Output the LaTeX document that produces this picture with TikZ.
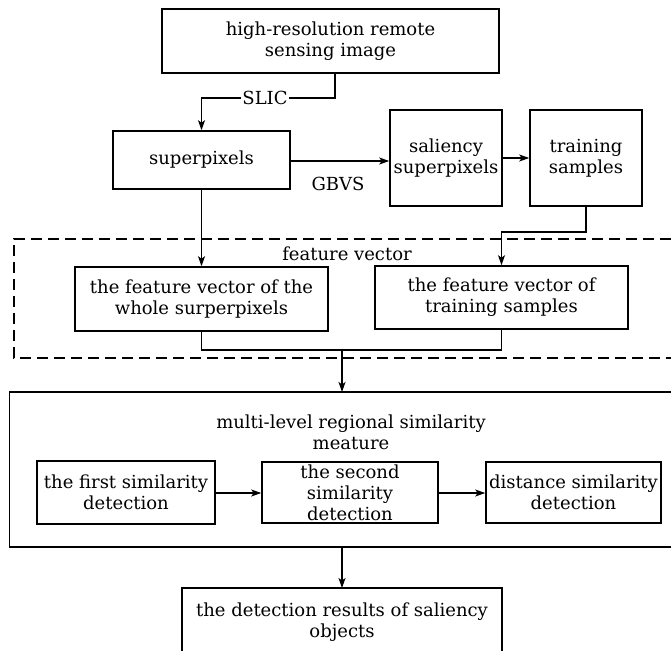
\documentclass[tikz,border=0pt]{standalone}
\usepackage{fontspec}
\setmainfont{DejaVu Serif}
\usetikzlibrary{arrows.meta}
\begin{document}
\begin{tikzpicture}[x=1pt,y=-1pt,
  box/.style={draw, line width=1.6pt, align=center, inner sep=0pt},
  con/.style={line width=1.2pt},
  arr/.style={con, -{Stealth[length=10pt,width=7pt,inset=2.5pt]}},
  frame/.style={line width=1.6pt},
  dashframe/.style={line width=1.7pt, dash pattern=on 11pt off 6pt},
  every node/.append style={font=\fontsize{18}{21}\selectfont}]
\useasboundingbox (0,0) rectangle (671,650);

% boxes
\node[box, minimum width=337pt, minimum height=64pt] (top) at (330.5,41) {high-resolution remote\\sensing image};
\node[box, minimum width=177pt, minimum height=58pt] (sp) at (201.5,160) {superpixels};
\node[box, minimum width=112pt, minimum height=96pt] (sal) at (446,158) {saliency\\superpixels};
\node[box, minimum width=112pt, minimum height=96pt] (tr) at (586,158) {training\\samples};

% dashed feature-vector frame (open at right)
\coordinate (dtr) at (671,239);
\coordinate (dtl) at (14,239);
\coordinate (dbl) at (14,358);
\coordinate (dbr) at (671,358);
\draw[dashframe] (dtr) -- (dtl) -- (dbl) -- (dbr);
\node (fvlabel) at (347,254) {feature vector};
\node[box, minimum width=253pt, minimum height=64pt] (fvL) at (201.5,299) {the feature vector of the\\whole surperpixels};
\node[box, minimum width=253pt, minimum height=63pt] (fvR) at (501.5,297.5) {the feature vector of\\training samples};

% big frame (open at right)
\coordinate (btr) at (671,392);
\coordinate (btl) at (9.5,392);
\coordinate (bbl) at (9.5,547);
\coordinate (bbr) at (671,547);
\draw[frame] (btr) -- (btl) -- (bbl) -- (bbr);
\coordinate (btop) at (342,392);
\coordinate (bbot) at (342,547);
\node[align=center] (mtitle) at (351,432) {multi-level regional similarity\\meature};
\node[box, minimum width=178pt, minimum height=63pt] (d1) at (126,492.5) {the first similarity\\detection};
\node[box, minimum width=176pt, minimum height=61pt] (d2) at (350,492.5) {the second\\similarity\\detection};
\node[box, minimum width=175pt, minimum height=61pt] (d3) at (573.5,492.5) {distance similarity\\detection};

% result box (open at bottom)
\coordinate (rbl) at (182,655);
\coordinate (rtl) at (182,588);
\coordinate (rtr) at (502,588);
\coordinate (rbr) at (502,655);
\draw[frame] (rbl) -- (rtl) -- (rtr) -- (rbr);
\coordinate (rtop) at (342,588);
\node[align=center] (res) at (342,622) {the detection results of saliency\\objects};

% connectors
\coordinate (s1) at (335,73);
\coordinate (s2) at (335,98);
\coordinate (s3) at (sp.north |- s2);
\draw[arr] (s1) -- (s2) -- (s3) -- (sp.north);
\node[fill=white, inner sep=1pt] (slic) at (265,98) {SLIC};

\coordinate (g1) at (sp.east |- 0,161);
\coordinate (g2) at (sal.west |- 0,161);
\draw[arr] (g1) -- (g2);
\node (gbvs) at (338,184) {GBVS};

\coordinate (t1) at (sal.east |- 0,158);
\coordinate (t2) at (tr.west |- 0,158);
\draw[arr] (t1) -- (t2);

\coordinate (r1) at (tr.south |- 0,232);
\coordinate (r2) at (fvR.north |- 0,232);
\draw[arr] (tr.south) -- (r1) -- (r2) -- (fvR.north);

\draw[arr] (sp.south) -- (fvL.north);

\coordinate (m1) at (fvL.south |- 0,350);
\coordinate (m2) at (fvR.south |- 0,350);
\coordinate (mc) at (342,350);
\draw[con] (fvL.south) -- (m1) -- (m2) -- (fvR.south);
\draw[arr] (mc) -- (btop);

\coordinate (a1) at (d1.east |- 0,493);
\coordinate (a2) at (d2.west |- 0,493);
\draw[arr] (a1) -- (a2);
\coordinate (a3) at (d2.east |- 0,493);
\coordinate (a4) at (d3.west |- 0,493);
\draw[arr] (a3) -- (a4);

\draw[arr] (bbot) -- (rtop);
\end{tikzpicture}
\end{document}
